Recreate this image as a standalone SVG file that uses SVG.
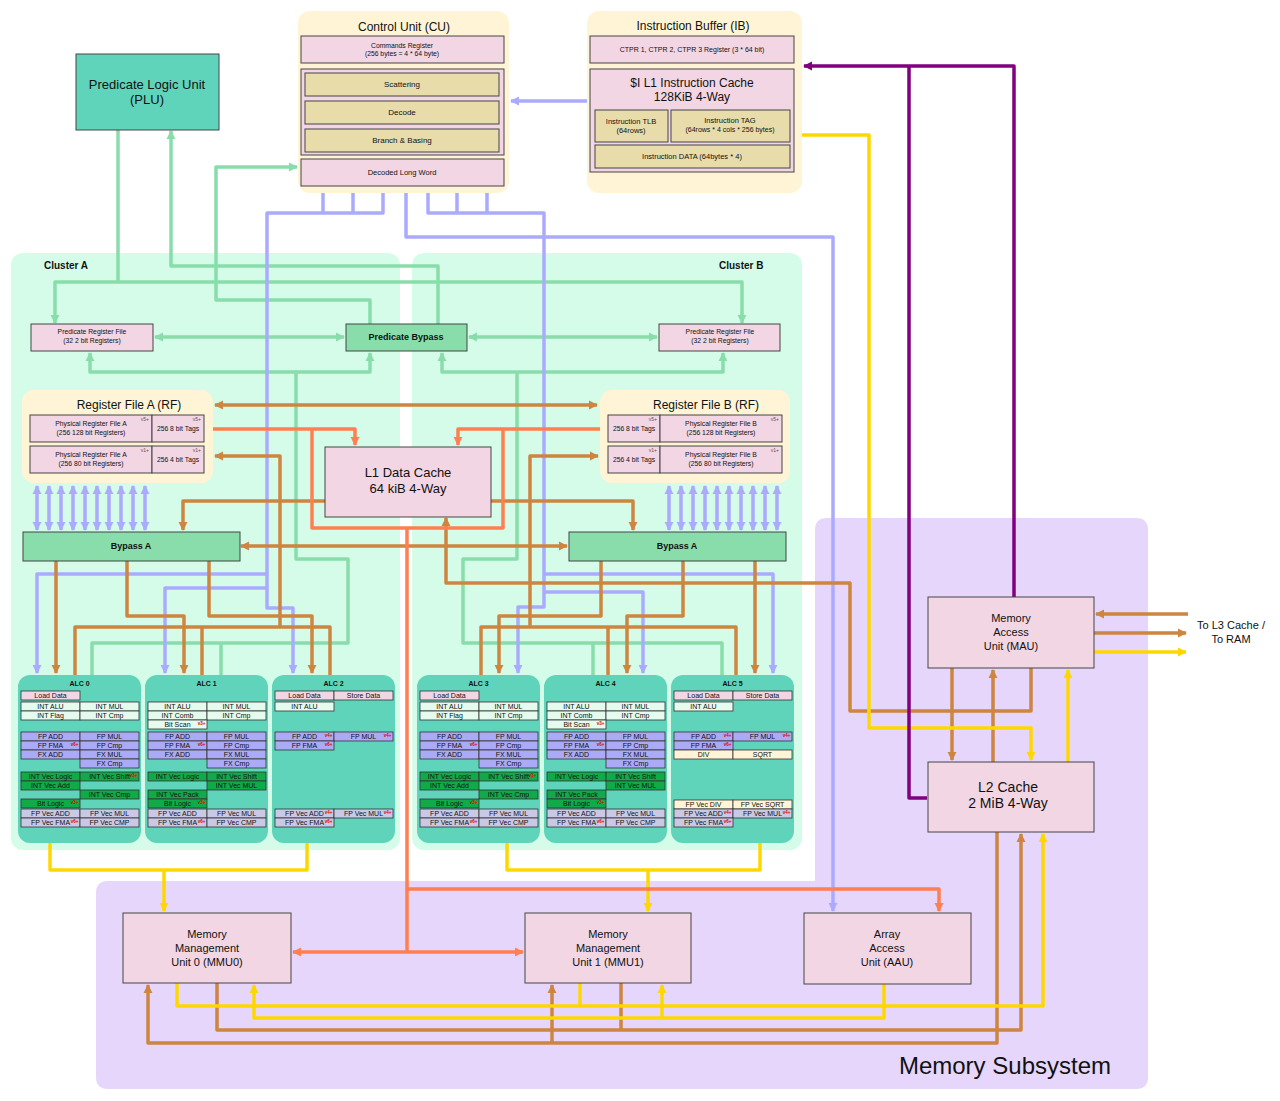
<svg xmlns="http://www.w3.org/2000/svg" xmlns:xlink="http://www.w3.org/1999/xlink" width="1280" height="1101" viewBox="0 0 1280 1101">
<style>
text{font-family:"Liberation Sans",Arial,sans-serif;fill:#111}
.m{text-anchor:middle}
.bx{stroke:#444;stroke-width:1}
.pk{fill:#f3d6e4}
.tan{fill:#e8dcab}
.yl{fill:#fff5d6}
.gr{fill:#88ddaa}
.tl{fill:#5fd4bb}
.c{fill:none;stroke-width:3.5;stroke-linejoin:round}
.g{stroke:#88ddaa}.b{stroke:#aaaaff}.o{stroke:#cd853f}.r{stroke:#ff7f50}.y{stroke:#ffd700}.p{stroke:#800080}
.cell rect{stroke:#333;stroke-width:0.8}
.ld{fill:#f3d6e4}.in{fill:#e4fbee}.fp{fill:#aaaaf6}.vi{fill:#10aa48}.fv{fill:#c9c9e6}.dv{fill:#fff5d6}
.cl{font-size:7px;text-anchor:middle}
.mk{font-size:4.5px;text-anchor:end;fill:#e00000;font-weight:bold}
.vv{font-size:5px;text-anchor:end;fill:#555}
.s7{font-size:6.8px;text-anchor:middle}
.at{font-size:7px;font-weight:bold;text-anchor:middle}
</style>
<defs>
<marker id="ag" viewBox="0 0 10 10" refX="9" refY="5" markerWidth="2.6" markerHeight="2.6" orient="auto-start-reverse"><path d="M0,0L10,5L0,10z" fill="#88ddaa"/></marker>
<marker id="ab" viewBox="0 0 10 10" refX="9" refY="5" markerWidth="2.6" markerHeight="2.6" orient="auto-start-reverse"><path d="M0,0L10,5L0,10z" fill="#aaaaff"/></marker>
<marker id="ao" viewBox="0 0 10 10" refX="9" refY="5" markerWidth="2.6" markerHeight="2.6" orient="auto-start-reverse"><path d="M0,0L10,5L0,10z" fill="#cd853f"/></marker>
<marker id="ar" viewBox="0 0 10 10" refX="9" refY="5" markerWidth="2.6" markerHeight="2.6" orient="auto-start-reverse"><path d="M0,0L10,5L0,10z" fill="#ff7f50"/></marker>
<marker id="ay" viewBox="0 0 10 10" refX="9" refY="5" markerWidth="2.6" markerHeight="2.6" orient="auto-start-reverse"><path d="M0,0L10,5L0,10z" fill="#ffd700"/></marker>
<marker id="ap" viewBox="0 0 10 10" refX="9" refY="5" markerWidth="2.6" markerHeight="2.6" orient="auto-start-reverse"><path d="M0,0L10,5L0,10z" fill="#800080"/></marker>
</defs>
<rect width="1280" height="1101" fill="#ffffff"/>

<g id="containers">
<path d="M827,518 H1136 Q1148,518 1148,530 V1077 Q1148,1089 1136,1089 H108 Q96,1089 96,1077 V893 Q96,881 108,881 H815 V530 Q815,518 827,518 Z" fill="#e6d6fc"/>
<rect x="11" y="253" width="389" height="597" rx="12" fill="#d5fce8"/>
<rect x="412" y="253" width="390" height="597" rx="12" fill="#d5fce8"/>
<text x="44" y="269" font-size="10" font-weight="bold">Cluster A</text>
<text x="719" y="269" font-size="10" font-weight="bold">Cluster B</text>
<text x="1111" y="1074" font-size="24" text-anchor="end">Memory Subsystem</text>
</g>

<g id="connectors">
<!-- green -->
<path class="c g" d="M118,130 V282"/>
<path class="c g" d="M55,323 V282 H742 V323" marker-start="url(#ag)" marker-end="url(#ag)"/>
<path class="c g" d="M438,324 V266 H171 V131" marker-end="url(#ag)"/>
<path class="c g" d="M370,324 V300 H216 V167 H297" marker-end="url(#ag)"/>
<path class="c g" d="M155,337 H344" marker-start="url(#ag)" marker-end="url(#ag)"/>
<path class="c g" d="M469,337 H657" marker-start="url(#ag)" marker-end="url(#ag)"/>
<path class="c g" d="M90,353 V372 H370 V353" marker-start="url(#ag)" marker-end="url(#ag)"/>
<path class="c g" d="M296,372 V559 H348 V643 H92 V675"/>
<path class="c g" d="M221,643 V675"/>
<path class="c g" d="M723,353 V372 H442 V353" marker-start="url(#ag)" marker-end="url(#ag)"/>
<path class="c g" d="M517,372 V559 H463 V643 H722 V675"/>
<path class="c g" d="M593,643 V675"/>
<!-- blue -->
<path class="c b" d="M587,101 H511" marker-end="url(#ab)"/>
<path class="c b" d="M383,193 V213 H267 V608 H293 V673" marker-end="url(#ab)"/>
<path class="c b" d="M323,193 V213 M353,193 V213"/>
<path class="c b" d="M267,574 H37 V673" marker-end="url(#ab)"/>
<path class="c b" d="M267,588 H165 V673" marker-end="url(#ab)"/>
<path class="c b" d="M406,193 V237 H833 V911" marker-end="url(#ab)"/>
<path class="c b" d="M428,193 V213 H544 V607 H518 V673" marker-end="url(#ab)"/>
<path class="c b" d="M457,193 V213 M487,193 V213"/>
<path class="c b" d="M544,574 H773 V673" marker-end="url(#ab)"/>
<path class="c b" d="M544,592 H643 V673" marker-end="url(#ab)"/>
<g stroke-width="3">
<path class="c b" d="M37,486 V530" marker-start="url(#ab)" marker-end="url(#ab)"/>
<path class="c b" d="M49,486 V530" marker-start="url(#ab)" marker-end="url(#ab)"/>
<path class="c b" d="M61,486 V530" marker-start="url(#ab)" marker-end="url(#ab)"/>
<path class="c b" d="M73,486 V530" marker-start="url(#ab)" marker-end="url(#ab)"/>
<path class="c b" d="M85,486 V530" marker-start="url(#ab)" marker-end="url(#ab)"/>
<path class="c b" d="M97,486 V530" marker-start="url(#ab)" marker-end="url(#ab)"/>
<path class="c b" d="M109,486 V530" marker-start="url(#ab)" marker-end="url(#ab)"/>
<path class="c b" d="M121,486 V530" marker-start="url(#ab)" marker-end="url(#ab)"/>
<path class="c b" d="M133,486 V530" marker-start="url(#ab)" marker-end="url(#ab)"/>
<path class="c b" d="M145,486 V530" marker-start="url(#ab)" marker-end="url(#ab)"/>
<path class="c b" d="M669,486 V530" marker-start="url(#ab)" marker-end="url(#ab)"/>
<path class="c b" d="M681,486 V530" marker-start="url(#ab)" marker-end="url(#ab)"/>
<path class="c b" d="M693,486 V530" marker-start="url(#ab)" marker-end="url(#ab)"/>
<path class="c b" d="M705,486 V530" marker-start="url(#ab)" marker-end="url(#ab)"/>
<path class="c b" d="M717,486 V530" marker-start="url(#ab)" marker-end="url(#ab)"/>
<path class="c b" d="M729,486 V530" marker-start="url(#ab)" marker-end="url(#ab)"/>
<path class="c b" d="M741,486 V530" marker-start="url(#ab)" marker-end="url(#ab)"/>
<path class="c b" d="M753,486 V530" marker-start="url(#ab)" marker-end="url(#ab)"/>
<path class="c b" d="M765,486 V530" marker-start="url(#ab)" marker-end="url(#ab)"/>
<path class="c b" d="M777,486 V530" marker-start="url(#ab)" marker-end="url(#ab)"/>
</g>
<!-- orange -->
<path class="c o" d="M215,405 H597" marker-start="url(#ao)" marker-end="url(#ao)"/>
<path class="c o" d="M280,627 V456 H215" marker-end="url(#ao)"/>
<path class="c o" d="M75,675 V627 H330 V675 M202,627 V675"/>
<path class="c o" d="M530,627 V456 H598" marker-end="url(#ao)"/>
<path class="c o" d="M481,675 V627 H736 V675 M608,627 V675"/>
<path class="c o" d="M325,501 H183 V530" marker-end="url(#ao)"/>
<path class="c o" d="M491,501 H633 V530" marker-end="url(#ao)"/>
<path class="c o" d="M241,546 H567" marker-start="url(#ao)" marker-end="url(#ao)"/>
<path class="c o" d="M56,561 V673" marker-end="url(#ao)"/>
<path class="c o" d="M127,561 V616 H184 V673" marker-end="url(#ao)"/>
<path class="c o" d="M209,561 V616 H312 V673" marker-end="url(#ao)"/>
<path class="c o" d="M601,561 V616 H499 V673" marker-end="url(#ao)"/>
<path class="c o" d="M683,561 V616 H627 V673" marker-end="url(#ao)"/>
<path class="c o" d="M755,561 V673" marker-end="url(#ao)"/>
<path class="c o" d="M1031,668 V711 H850 V583 H446 V518" marker-end="url(#ao)"/>
<path class="c o" d="M952,668 V760" marker-end="url(#ao)"/>
<path class="c o" d="M993,762 V670" marker-end="url(#ao)"/>
<path class="c o" d="M1188,614 H1096" marker-end="url(#ao)"/>
<path class="c o" d="M1094,633 H1186" marker-end="url(#ao)"/>
<path class="c o" d="M997,832 V1043 H148 V985" marker-end="url(#ao)"/>
<path class="c o" d="M552,1043 V985" marker-end="url(#ao)"/>
<path class="c o" d="M217,983 V1030 H1021 V834" marker-end="url(#ao)"/>
<path class="c o" d="M621,983 V1030"/>
<!-- yellow -->
<path class="c y" d="M802,135 H869 V728 H1031 V760" marker-end="url(#ay)"/>
<path class="c y" d="M1068,762 V670" marker-end="url(#ay)"/>
<path class="c y" d="M1094,652 H1186" marker-end="url(#ay)"/>
<path class="c y" d="M50,843 V870 H307 V843"/>
<path class="c y" d="M164,870 V911" marker-end="url(#ay)"/>
<path class="c y" d="M507,843 V870 H760 V843"/>
<path class="c y" d="M648,870 V911" marker-end="url(#ay)"/>
<path class="c y" d="M177,983 V1006 H1043 V834" marker-end="url(#ay)"/>
<path class="c y" d="M580,983 V1006"/>
<path class="c y" d="M884,984 V1018 H254 V985" marker-end="url(#ay)"/>
<path class="c y" d="M662,1018 V985" marker-end="url(#ay)"/>
<!-- coral -->
<path class="c r" d="M213,429 H355 V445" marker-end="url(#ar)"/>
<path class="c r" d="M601,429 H458 V445" marker-end="url(#ar)"/>
<path class="c r" d="M312,429 V528 H503 V429"/>
<path class="c r" d="M407,528 V889 H939 V911" marker-end="url(#ar)"/>
<path class="c r" d="M407,889 V952"/>
<path class="c r" d="M293,952 H523" marker-start="url(#ar)" marker-end="url(#ar)"/>
<!-- purple -->
<path class="c p" d="M1014,597 V66 H804" marker-end="url(#ap)"/>
<path class="c p" d="M909,66 V798 H927"/>
</g>

<g id="plu">
<rect class="bx tl" x="76" y="54" width="143" height="76"/>
<text class="m" x="147" y="89" font-size="13">Predicate Logic Unit</text>
<text class="m" x="147" y="104" font-size="13">(PLU)</text>
</g>

<g id="cu">
<rect class="yl" x="298" y="11" width="211" height="182" rx="12"/>
<text class="m" x="404" y="31" font-size="12">Control Unit (CU)</text>
<rect class="bx pk" x="301" y="36" width="203" height="27"/>
<text class="s7" x="402" y="48">Commands Register</text>
<text class="s7" x="402" y="56">(256 bytes = 4 * 64 byte)</text>
<rect class="bx pk" x="301" y="69" width="203" height="86"/>
<rect class="bx tan" x="305" y="73" width="194" height="23"/>
<text class="m" x="402" y="87" font-size="8">Scattering</text>
<rect class="bx tan" x="305" y="101" width="194" height="23"/>
<text class="m" x="402" y="115" font-size="8">Decode</text>
<rect class="bx tan" x="305" y="129" width="194" height="23"/>
<text class="m" x="402" y="143" font-size="8">Branch &amp; Basing</text>
<rect class="bx pk" x="301" y="159" width="203" height="27"/>
<text class="m" x="402" y="175" font-size="7.5">Decoded Long Word</text>
</g>

<g id="ib">
<rect class="yl" x="587" y="11" width="215" height="182" rx="12"/>
<text class="m" x="693" y="30" font-size="12">Instruction Buffer (IB)</text>
<rect class="bx pk" x="590" y="36" width="204" height="27"/>
<text class="m" x="692" y="52" font-size="7">CTPR 1, CTPR 2, CTPR 3 Register (3 * 64 bit)</text>
<rect class="bx pk" x="590" y="69" width="204" height="103"/>
<text class="m" x="692" y="87" font-size="12">$I L1 Instruction Cache</text>
<text class="m" x="692" y="101" font-size="12">128KiB 4-Way</text>
<rect class="bx tan" x="595" y="110" width="73" height="32"/>
<text class="m" x="631" y="124" font-size="7.5">Instruction TLB</text>
<text class="m" x="631" y="133" font-size="7.5">(64rows)</text>
<rect class="bx tan" x="671" y="110" width="119" height="32"/>
<text class="m" x="730" y="123" font-size="7.5">Instruction TAG</text>
<text class="m" x="730" y="132" font-size="7">(64rows * 4 cols * 256 bytes)</text>
<rect class="bx tan" x="595" y="145" width="195" height="23"/>
<text class="m" x="692" y="159" font-size="7.5">Instruction DATA (64bytes * 4)</text>
</g>

<g id="prf-a">
<rect class="bx pk" x="31" y="324" width="122" height="27"/>
<text class="s7" x="92" y="334">Predicate Register File</text>
<text class="s7" x="92" y="343">(32 2 bit Registers)</text>
</g>
<g id="pred-bypass">
<rect class="bx gr" x="346" y="324" width="121" height="27"/>
<text class="m" x="406" y="340" font-size="9" font-weight="bold">Predicate Bypass</text>
</g>
<g id="prf-b">
<rect class="bx pk" x="659" y="324" width="121" height="27"/>
<text class="s7" x="720" y="334">Predicate Register File</text>
<text class="s7" x="720" y="343">(32 2 bit Registers)</text>
</g>

<g id="rf-a">
<rect class="yl" x="22" y="390" width="191" height="93" rx="12"/>
<text class="m" x="129" y="409" font-size="12">Register File A (RF)</text>
<rect class="bx pk" x="30" y="415" width="122" height="27"/>
<text class="s7" x="91" y="426">Physical Register File A</text>
<text class="s7" x="91" y="435">(256 128 bit Registers)</text>
<text class="vv" x="149" y="421">v5+</text>
<rect class="bx pk" x="152" y="415" width="52" height="27"/>
<text class="s7" x="178" y="431">256 8 bit Tags</text>
<text class="vv" x="201" y="421">v5+</text>
<rect class="bx pk" x="30" y="446" width="122" height="27"/>
<text class="s7" x="91" y="457">Physical Register File A</text>
<text class="s7" x="91" y="466">(256 80 bit Registers)</text>
<text class="vv" x="149" y="452">v1+</text>
<rect class="bx pk" x="152" y="446" width="52" height="27"/>
<text class="s7" x="178" y="462">256 4 bit Tags</text>
<text class="vv" x="201" y="452">v1+</text>
</g>

<g id="rf-b">
<rect class="yl" x="600" y="390" width="190" height="93" rx="12"/>
<text class="m" x="706" y="409" font-size="12">Register File B (RF)</text>
<rect class="bx pk" x="608" y="415" width="52" height="27"/>
<text class="s7" x="634" y="431">256 8 bit Tags</text>
<text class="vv" x="657" y="421">v5+</text>
<rect class="bx pk" x="660" y="415" width="122" height="27"/>
<text class="s7" x="721" y="426">Physical Register File B</text>
<text class="s7" x="721" y="435">(256 128 bit Registers)</text>
<text class="vv" x="779" y="421">v5+</text>
<rect class="bx pk" x="608" y="446" width="52" height="27"/>
<text class="s7" x="634" y="462">256 4 bit Tags</text>
<text class="vv" x="657" y="452">v1+</text>
<rect class="bx pk" x="660" y="446" width="122" height="27"/>
<text class="s7" x="721" y="457">Physical Register File B</text>
<text class="s7" x="721" y="466">(256 80 bit Registers)</text>
<text class="vv" x="779" y="452">v1+</text>
</g>

<g id="l1">
<rect class="bx pk" x="325" y="447" width="166" height="70"/>
<text class="m" x="408" y="477" font-size="13">L1 Data Cache</text>
<text class="m" x="408" y="493" font-size="13">64 kiB 4-Way</text>
</g>

<g id="bypass-a-left">
<rect class="bx gr" x="23" y="532" width="217" height="29"/>
<text class="m" x="131" y="549" font-size="9" font-weight="bold">Bypass A</text>
</g>
<g id="bypass-a-right">
<rect class="bx gr" x="569" y="532" width="217" height="29"/>
<text class="m" x="677" y="549" font-size="9" font-weight="bold">Bypass A</text>
</g>

<g id="alc0" transform="translate(18,0)">
<rect class="tl" x="0" y="675" width="123" height="168" rx="12"/>
<text class="at" x="61.5" y="686">ALC 0</text>
<g class="cell">
<rect class="ld" x="3" y="691" width="59" height="9"/><text class="cl" x="32.5" y="698">Load Data</text>
<rect class="in" x="3" y="702" width="59" height="9"/><text class="cl" x="32.5" y="709">INT ALU</text>
<rect class="in" x="62" y="702" width="59" height="9"/><text class="cl" x="91.5" y="709">INT MUL</text>
<rect class="in" x="3" y="711" width="59" height="9"/><text class="cl" x="32.5" y="718">INT Flag</text>
<rect class="in" x="62" y="711" width="59" height="9"/><text class="cl" x="91.5" y="718">INT Cmp</text>
<rect class="fp" x="3" y="732" width="59" height="9"/><text class="cl" x="32.5" y="739">FP ADD</text>
<rect class="fp" x="62" y="732" width="59" height="9"/><text class="cl" x="91.5" y="739">FP MUL</text>
<rect class="fp" x="3" y="741" width="59" height="9"/><text class="cl" x="32.5" y="748">FP FMA</text><text class="mk" x="60.5" y="745.5">v6+</text>
<rect class="fp" x="62" y="741" width="59" height="9"/><text class="cl" x="91.5" y="748">FP Cmp</text>
<rect class="fp" x="3" y="750" width="59" height="9"/><text class="cl" x="32.5" y="757">FX ADD</text>
<rect class="fp" x="62" y="750" width="59" height="9"/><text class="cl" x="91.5" y="757">FX MUL</text>
<rect class="fp" x="62" y="759" width="59" height="9"/><text class="cl" x="91.5" y="766">FX Cmp</text>
<rect class="vi" x="3" y="772" width="59" height="9"/><text class="cl" x="32.5" y="779">INT Vec Logic</text>
<rect class="vi" x="62" y="772" width="59" height="9"/><text class="cl" x="91.5" y="779">INT Vec Shift</text><text class="mk" x="119.5" y="776.5">v3+</text>
<rect class="vi" x="3" y="781" width="59" height="9"/><text class="cl" x="32.5" y="788">INT Vec Add</text>
<rect class="vi" x="62" y="790" width="59" height="9"/><text class="cl" x="91.5" y="797">INT Vec Cmp</text>
<rect class="vi" x="3" y="799" width="59" height="9"/><text class="cl" x="32.5" y="806">Bit Logic</text><text class="mk" x="60.5" y="803.5">v3+</text>
<rect class="fv" x="3" y="809" width="59" height="9"/><text class="cl" x="32.5" y="816">FP Vec ADD</text>
<rect class="fv" x="62" y="809" width="59" height="9"/><text class="cl" x="91.5" y="816">FP Vec MUL</text>
<rect class="fv" x="3" y="818" width="59" height="9"/><text class="cl" x="32.5" y="825">FP Vec FMA</text><text class="mk" x="60.5" y="822.5">v6+</text>
<rect class="fv" x="62" y="818" width="59" height="9"/><text class="cl" x="91.5" y="825">FP Vec CMP</text>
</g>
</g>

<g id="alc1" transform="translate(145,0)">
<rect class="tl" x="0" y="675" width="123" height="168" rx="12"/>
<text class="at" x="61.5" y="686">ALC 1</text>
<g class="cell">
<rect class="in" x="3" y="702" width="59" height="9"/><text class="cl" x="32.5" y="709">INT ALU</text>
<rect class="in" x="62" y="702" width="59" height="9"/><text class="cl" x="91.5" y="709">INT MUL</text>
<rect class="in" x="3" y="711" width="59" height="9"/><text class="cl" x="32.5" y="718">INT Comb</text>
<rect class="in" x="62" y="711" width="59" height="9"/><text class="cl" x="91.5" y="718">INT Cmp</text>
<rect class="in" x="3" y="720" width="59" height="9"/><text class="cl" x="32.5" y="727">Bit Scan</text><text class="mk" x="60.5" y="724.5">v3+</text>
<rect class="fp" x="3" y="732" width="59" height="9"/><text class="cl" x="32.5" y="739">FP ADD</text>
<rect class="fp" x="62" y="732" width="59" height="9"/><text class="cl" x="91.5" y="739">FP MUL</text>
<rect class="fp" x="3" y="741" width="59" height="9"/><text class="cl" x="32.5" y="748">FP FMA</text><text class="mk" x="60.5" y="745.5">v6+</text>
<rect class="fp" x="62" y="741" width="59" height="9"/><text class="cl" x="91.5" y="748">FP Cmp</text>
<rect class="fp" x="3" y="750" width="59" height="9"/><text class="cl" x="32.5" y="757">FX ADD</text>
<rect class="fp" x="62" y="750" width="59" height="9"/><text class="cl" x="91.5" y="757">FX MUL</text>
<rect class="fp" x="62" y="759" width="59" height="9"/><text class="cl" x="91.5" y="766">FX Cmp</text>
<rect class="vi" x="3" y="772" width="59" height="9"/><text class="cl" x="32.5" y="779">INT Vec Logic</text>
<rect class="vi" x="62" y="772" width="59" height="9"/><text class="cl" x="91.5" y="779">INT Vec Shift</text>
<rect class="vi" x="62" y="781" width="59" height="9"/><text class="cl" x="91.5" y="788">INT Vec MUL</text>
<rect class="vi" x="3" y="790" width="59" height="9"/><text class="cl" x="32.5" y="797">INT Vec Pack</text>
<rect class="vi" x="3" y="799" width="59" height="9"/><text class="cl" x="32.5" y="806">Bit Logic</text><text class="mk" x="60.5" y="803.5">v3+</text>
<rect class="fv" x="3" y="809" width="59" height="9"/><text class="cl" x="32.5" y="816">FP Vec ADD</text>
<rect class="fv" x="62" y="809" width="59" height="9"/><text class="cl" x="91.5" y="816">FP Vec MUL</text>
<rect class="fv" x="3" y="818" width="59" height="9"/><text class="cl" x="32.5" y="825">FP Vec FMA</text><text class="mk" x="60.5" y="822.5">v6+</text>
<rect class="fv" x="62" y="818" width="59" height="9"/><text class="cl" x="91.5" y="825">FP Vec CMP</text>
</g>
</g>

<g id="alc2" transform="translate(272,0)">
<rect class="tl" x="0" y="675" width="123" height="168" rx="12"/>
<text class="at" x="61.5" y="686">ALC 2</text>
<g class="cell">
<rect class="ld" x="3" y="691" width="59" height="9"/><text class="cl" x="32.5" y="698">Load Data</text>
<rect class="ld" x="62" y="691" width="59" height="9"/><text class="cl" x="91.5" y="698">Store Data</text>
<rect class="in" x="3" y="702" width="59" height="9"/><text class="cl" x="32.5" y="709">INT ALU</text>
<rect class="fp" x="3" y="732" width="59" height="9"/><text class="cl" x="32.5" y="739">FP ADD</text><text class="mk" x="60.5" y="736.5">v4+</text>
<rect class="fp" x="62" y="732" width="59" height="9"/><text class="cl" x="91.5" y="739">FP MUL</text><text class="mk" x="119.5" y="736.5">v4+</text>
<rect class="fp" x="3" y="741" width="59" height="9"/><text class="cl" x="32.5" y="748">FP FMA</text><text class="mk" x="60.5" y="745.5">v6+</text>
<rect class="fv" x="3" y="809" width="59" height="9"/><text class="cl" x="32.5" y="816">FP Vec ADD</text><text class="mk" x="60.5" y="813.5">v4+</text>
<rect class="fv" x="62" y="809" width="59" height="9"/><text class="cl" x="91.5" y="816">FP Vec MUL</text><text class="mk" x="119.5" y="813.5">v4+</text>
<rect class="fv" x="3" y="818" width="59" height="9"/><text class="cl" x="32.5" y="825">FP Vec FMA</text><text class="mk" x="60.5" y="822.5">v6+</text>
</g>
</g>

<g id="alc3" transform="translate(417,0)">
<rect class="tl" x="0" y="675" width="123" height="168" rx="12"/>
<text class="at" x="61.5" y="686">ALC 3</text>
<g class="cell">
<rect class="ld" x="3" y="691" width="59" height="9"/><text class="cl" x="32.5" y="698">Load Data</text>
<rect class="in" x="3" y="702" width="59" height="9"/><text class="cl" x="32.5" y="709">INT ALU</text>
<rect class="in" x="62" y="702" width="59" height="9"/><text class="cl" x="91.5" y="709">INT MUL</text>
<rect class="in" x="3" y="711" width="59" height="9"/><text class="cl" x="32.5" y="718">INT Flag</text>
<rect class="in" x="62" y="711" width="59" height="9"/><text class="cl" x="91.5" y="718">INT Cmp</text>
<rect class="fp" x="3" y="732" width="59" height="9"/><text class="cl" x="32.5" y="739">FP ADD</text>
<rect class="fp" x="62" y="732" width="59" height="9"/><text class="cl" x="91.5" y="739">FP MUL</text>
<rect class="fp" x="3" y="741" width="59" height="9"/><text class="cl" x="32.5" y="748">FP FMA</text><text class="mk" x="60.5" y="745.5">v6+</text>
<rect class="fp" x="62" y="741" width="59" height="9"/><text class="cl" x="91.5" y="748">FP Cmp</text>
<rect class="fp" x="3" y="750" width="59" height="9"/><text class="cl" x="32.5" y="757">FX ADD</text>
<rect class="fp" x="62" y="750" width="59" height="9"/><text class="cl" x="91.5" y="757">FX MUL</text>
<rect class="fp" x="62" y="759" width="59" height="9"/><text class="cl" x="91.5" y="766">FX Cmp</text>
<rect class="vi" x="3" y="772" width="59" height="9"/><text class="cl" x="32.5" y="779">INT Vec Logic</text>
<rect class="vi" x="62" y="772" width="59" height="9"/><text class="cl" x="91.5" y="779">INT Vec Shift</text><text class="mk" x="119.5" y="776.5">v3+</text>
<rect class="vi" x="3" y="781" width="59" height="9"/><text class="cl" x="32.5" y="788">INT Vec Add</text>
<rect class="vi" x="62" y="790" width="59" height="9"/><text class="cl" x="91.5" y="797">INT Vec Cmp</text>
<rect class="vi" x="3" y="799" width="59" height="9"/><text class="cl" x="32.5" y="806">Bit Logic</text><text class="mk" x="60.5" y="803.5">v3+</text>
<rect class="fv" x="3" y="809" width="59" height="9"/><text class="cl" x="32.5" y="816">FP Vec ADD</text>
<rect class="fv" x="62" y="809" width="59" height="9"/><text class="cl" x="91.5" y="816">FP Vec MUL</text>
<rect class="fv" x="3" y="818" width="59" height="9"/><text class="cl" x="32.5" y="825">FP Vec FMA</text><text class="mk" x="60.5" y="822.5">v6+</text>
<rect class="fv" x="62" y="818" width="59" height="9"/><text class="cl" x="91.5" y="825">FP Vec CMP</text>
</g>
</g>

<g id="alc4" transform="translate(544,0)">
<rect class="tl" x="0" y="675" width="123" height="168" rx="12"/>
<text class="at" x="61.5" y="686">ALC 4</text>
<g class="cell">
<rect class="in" x="3" y="702" width="59" height="9"/><text class="cl" x="32.5" y="709">INT ALU</text>
<rect class="in" x="62" y="702" width="59" height="9"/><text class="cl" x="91.5" y="709">INT MUL</text>
<rect class="in" x="3" y="711" width="59" height="9"/><text class="cl" x="32.5" y="718">INT Comb</text>
<rect class="in" x="62" y="711" width="59" height="9"/><text class="cl" x="91.5" y="718">INT Cmp</text>
<rect class="in" x="3" y="720" width="59" height="9"/><text class="cl" x="32.5" y="727">Bit Scan</text><text class="mk" x="60.5" y="724.5">v3+</text>
<rect class="fp" x="3" y="732" width="59" height="9"/><text class="cl" x="32.5" y="739">FP ADD</text>
<rect class="fp" x="62" y="732" width="59" height="9"/><text class="cl" x="91.5" y="739">FP MUL</text>
<rect class="fp" x="3" y="741" width="59" height="9"/><text class="cl" x="32.5" y="748">FP FMA</text><text class="mk" x="60.5" y="745.5">v6+</text>
<rect class="fp" x="62" y="741" width="59" height="9"/><text class="cl" x="91.5" y="748">FP Cmp</text>
<rect class="fp" x="3" y="750" width="59" height="9"/><text class="cl" x="32.5" y="757">FX ADD</text>
<rect class="fp" x="62" y="750" width="59" height="9"/><text class="cl" x="91.5" y="757">FX MUL</text>
<rect class="fp" x="62" y="759" width="59" height="9"/><text class="cl" x="91.5" y="766">FX Cmp</text>
<rect class="vi" x="3" y="772" width="59" height="9"/><text class="cl" x="32.5" y="779">INT Vec Logic</text>
<rect class="vi" x="62" y="772" width="59" height="9"/><text class="cl" x="91.5" y="779">INT Vec Shift</text>
<rect class="vi" x="62" y="781" width="59" height="9"/><text class="cl" x="91.5" y="788">INT Vec MUL</text>
<rect class="vi" x="3" y="790" width="59" height="9"/><text class="cl" x="32.5" y="797">INT Vec Pack</text>
<rect class="vi" x="3" y="799" width="59" height="9"/><text class="cl" x="32.5" y="806">Bit Logic</text><text class="mk" x="60.5" y="803.5">v3+</text>
<rect class="fv" x="3" y="809" width="59" height="9"/><text class="cl" x="32.5" y="816">FP Vec ADD</text>
<rect class="fv" x="62" y="809" width="59" height="9"/><text class="cl" x="91.5" y="816">FP Vec MUL</text>
<rect class="fv" x="3" y="818" width="59" height="9"/><text class="cl" x="32.5" y="825">FP Vec FMA</text><text class="mk" x="60.5" y="822.5">v6+</text>
<rect class="fv" x="62" y="818" width="59" height="9"/><text class="cl" x="91.5" y="825">FP Vec CMP</text>
</g>
</g>

<g id="alc5" transform="translate(671,0)">
<rect class="tl" x="0" y="675" width="123" height="168" rx="12"/>
<text class="at" x="61.5" y="686">ALC 5</text>
<g class="cell">
<rect class="ld" x="3" y="691" width="59" height="9"/><text class="cl" x="32.5" y="698">Load Data</text>
<rect class="ld" x="62" y="691" width="59" height="9"/><text class="cl" x="91.5" y="698">Store Data</text>
<rect class="in" x="3" y="702" width="59" height="9"/><text class="cl" x="32.5" y="709">INT ALU</text>
<rect class="fp" x="3" y="732" width="59" height="9"/><text class="cl" x="32.5" y="739">FP ADD</text><text class="mk" x="60.5" y="736.5">v4+</text>
<rect class="fp" x="62" y="732" width="59" height="9"/><text class="cl" x="91.5" y="739">FP MUL</text><text class="mk" x="119.5" y="736.5">v4+</text>
<rect class="fp" x="3" y="741" width="59" height="9"/><text class="cl" x="32.5" y="748">FP FMA</text><text class="mk" x="60.5" y="745.5">v6+</text>
<rect class="dv" x="3" y="750" width="59" height="9"/><text class="cl" x="32.5" y="757">DIV</text>
<rect class="dv" x="62" y="750" width="59" height="9"/><text class="cl" x="91.5" y="757">SQRT</text>
<rect class="dv" x="3" y="800" width="59" height="9"/><text class="cl" x="32.5" y="807">FP Vec DIV</text>
<rect class="dv" x="62" y="800" width="59" height="9"/><text class="cl" x="91.5" y="807">FP Vec SQRT</text>
<rect class="fv" x="3" y="809" width="59" height="9"/><text class="cl" x="32.5" y="816">FP Vec ADD</text><text class="mk" x="60.5" y="813.5">v4+</text>
<rect class="fv" x="62" y="809" width="59" height="9"/><text class="cl" x="91.5" y="816">FP Vec MUL</text><text class="mk" x="119.5" y="813.5">v4+</text>
<rect class="fv" x="3" y="818" width="59" height="9"/><text class="cl" x="32.5" y="825">FP Vec FMA</text><text class="mk" x="60.5" y="822.5">v6+</text>
</g>
</g>

<g id="mau">
<rect class="bx pk" x="928" y="597" width="166" height="71"/>
<text class="m" x="1011" y="622" font-size="11">Memory</text>
<text class="m" x="1011" y="636" font-size="11">Access</text>
<text class="m" x="1011" y="650" font-size="11">Unit (MAU)</text>
</g>
<g id="ext-label">
<text class="m" x="1231" y="629" font-size="11">To L3 Cache /</text>
<text class="m" x="1231" y="643" font-size="11">To RAM</text>
</g>
<g id="l2">
<rect class="bx pk" x="928" y="762" width="166" height="70"/>
<text class="m" x="1008" y="792" font-size="14">L2 Cache</text>
<text class="m" x="1008" y="808" font-size="14">2 MiB 4-Way</text>
</g>
<g id="mmu0">
<rect class="bx pk" x="123" y="913" width="168" height="70"/>
<text class="m" x="207" y="938" font-size="11">Memory</text>
<text class="m" x="207" y="952" font-size="11">Management</text>
<text class="m" x="207" y="966" font-size="11">Unit 0 (MMU0)</text>
</g>
<g id="mmu1">
<rect class="bx pk" x="525" y="913" width="166" height="70"/>
<text class="m" x="608" y="938" font-size="11">Memory</text>
<text class="m" x="608" y="952" font-size="11">Management</text>
<text class="m" x="608" y="966" font-size="11">Unit 1 (MMU1)</text>
</g>
<g id="aau">
<rect class="bx pk" x="804" y="913" width="167" height="71"/>
<text class="m" x="887" y="938" font-size="11">Array</text>
<text class="m" x="887" y="952" font-size="11">Access</text>
<text class="m" x="887" y="966" font-size="11">Unit (AAU)</text>
</g>
</svg>
